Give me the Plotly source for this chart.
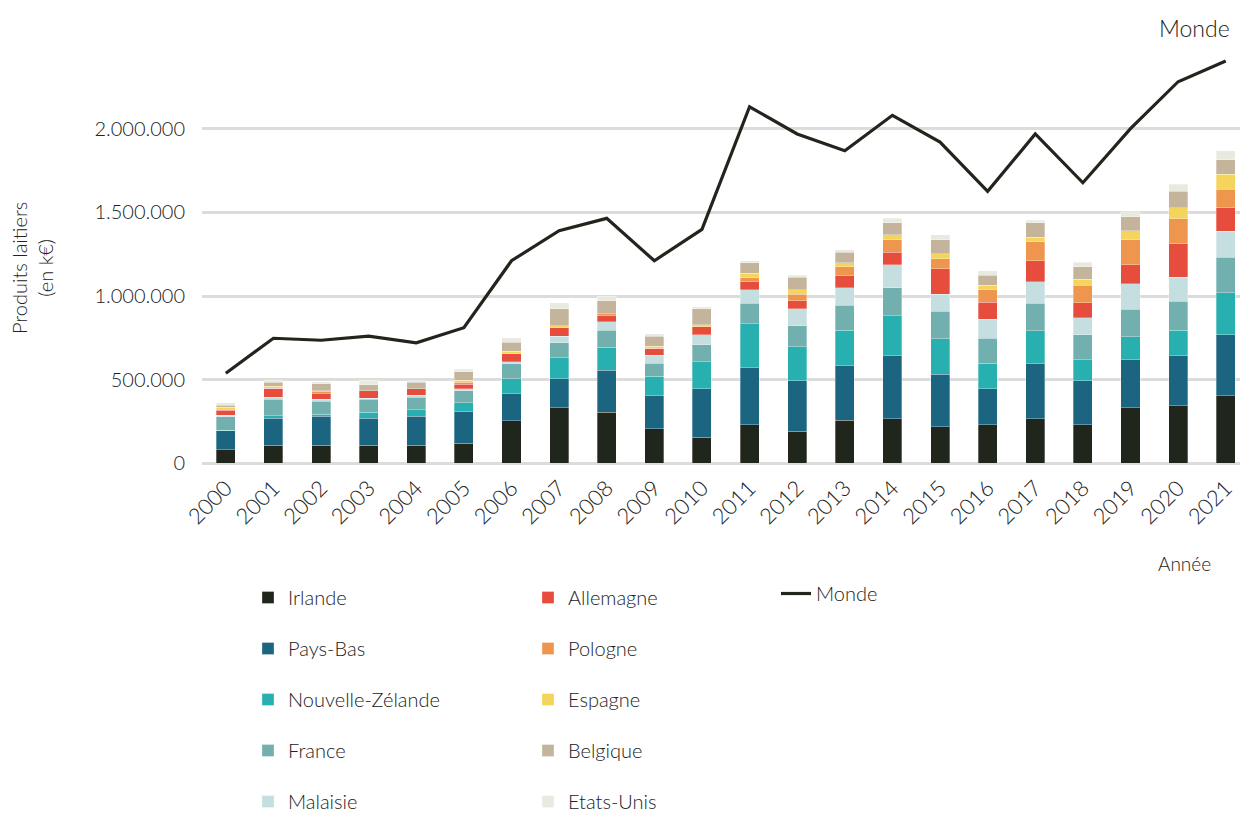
import plotly.graph_objects as go

years = [str(y) for y in range(2000, 2022)]

irlande    = [78, 105, 105, 105, 105, 118, 254, 331, 303, 204, 154, 230, 190, 255, 265, 217, 230, 265, 230, 331, 343, 403]
pays_bas   = [114, 164, 174, 162, 174, 188, 162, 174, 253, 200, 291, 339, 303, 327, 377, 313, 216, 329, 263, 287, 299, 365]
nz         = [5, 14, 12, 36, 40, 54, 90, 126, 138, 114, 162, 265, 204, 212, 240, 214, 150, 198, 126, 138, 152, 251]
france     = [80, 100, 80, 80, 74, 74, 89, 88, 100, 78, 102, 124, 124, 152, 166, 164, 150, 166, 150, 166, 176, 214]
malaisie   = [8, 12, 12, 4, 14, 12, 12, 40, 52, 48, 60, 78, 102, 102, 138, 102, 116, 128, 102, 152, 142, 156]
allemagne  = [32, 52, 36, 46, 38, 26, 51, 52, 36, 42, 46, 50, 50, 74, 76, 152, 100, 126, 90, 114, 202, 138]
pologne    = [4, 0, 12, 0, 0, 12, 0, 0, 12, 0, 0, 22, 36, 52, 76, 62, 76, 114, 102, 150, 150, 112]
espagne    = [12, 12, 3, 0, 0, 12, 12, 12, 0, 12, 14, 28, 28, 26, 28, 28, 26, 26, 38, 52, 64, 90]
belgique   = [12, 24, 40, 36, 38, 50, 52, 100, 78, 60, 94, 64, 74, 62, 74, 86, 60, 86, 74, 86, 100, 88]
etats_unis = [16, 12, 12, 26, 10, 14, 27, 38, 28, 16, 12, 12, 14, 14, 26, 28, 28, 16, 26, 28, 40, 52]
monde      = [537, 747, 735, 760, 720, 810, 1211, 1391, 1465, 1211, 1399, 2133, 1970, 1870, 2082, 1922, 1627, 1970, 1678, 2002, 2283, 2407]

tick_vals = [0, 500000, 1000000, 1500000, 2000000]
tick_text = ["0", "500.000", "1.000.000", "1.500.000", "2.000.000"]

series = [
    ("Irlande", irlande, "#21261c", "legend"),
    ("Pays-Bas", pays_bas, "#1b6581", "legend"),
    ("Nouvelle-Zélande", nz, "#28b0b0", "legend"),
    ("France", france, "#72b0af", "legend"),
    ("Malaisie", malaisie, "#c5dfe0", "legend"),
    ("Allemagne", allemagne, "#e64d3d", "legend2"),
    ("Pologne", pologne, "#ef964e", "legend2"),
    ("Espagne", espagne, "#f5d45c", "legend2"),
    ("Belgique", belgique, "#c4b49c", "legend2"),
    ("Etats-Unis", etats_unis, "#e9eadf", "legend2"),
]

FONT = "Lato, 'Open Sans', sans-serif"
TXT = "#222222"

fig = go.Figure()
for name, vals, color, leg in series:
    fig.add_trace(go.Bar(
        x=years, y=[v * 1000 for v in vals], name=name,
        marker=dict(color=color, line=dict(color="rgba(255,255,255,0.5)", width=0.6)),
        width=0.4, legend=leg, legendgroup=name,
    ))

fig.add_trace(go.Scatter(
    x=years, y=[v * 1000 for v in monde], name="Monde", mode="lines",
    line=dict(color="#21261c", width=3.2), legend="legend3",
))

L, R, T, B = 202, 0, 50, 351
W, H = 1240, 814
pw = W - L - R
ph = H - T - B

def px(xp):
    return (xp - L) / pw

def py(yp):
    return (H - B - yp) / ph

legend_common = dict(
    font=dict(family=FONT, size=20, color=TXT, weight=300),
    bgcolor="rgba(0,0,0,0)", orientation="v",
    tracegroupgap=22, xanchor="left", yanchor="top",
    itemclick=False, itemdoubleclick=False,
)

fig.update_layout(
    width=W, height=H,
    margin=dict(l=L, r=R, t=T, b=B, autoexpand=False),
    paper_bgcolor="white", plot_bgcolor="white",
    barmode="stack",
    font=dict(family=FONT, size=19, color=TXT, weight=300),
    showlegend=True,
    legend=dict(x=px(248), y=py(578), **legend_common),
    legend2=dict(x=px(528), y=py(578), **legend_common),
    legend3=dict(x=px(776), y=py(574), itemwidth=30, **legend_common),
    xaxis=dict(
        type="category", range=[-0.5, 21.3], tickangle=-45, automargin=False,
        tickfont=dict(family=FONT, size=22, color=TXT, weight=300),
        showgrid=False, showline=False, ticks="", zeroline=False,
        ticklabelstandoff=7,
    ),
    yaxis=dict(
        range=[0, 2473000], tickvals=tick_vals, ticktext=tick_text, automargin=False,
        tickfont=dict(family=FONT, size=20, color=TXT, weight=300),
        showgrid=True, gridcolor="#dcdcdc", gridwidth=2.5,
        zeroline=True, zerolinecolor="#dcdcdc", zerolinewidth=2.5,
        showline=False, ticks="", ticklabelstandoff=16,
    ),
    annotations=[
        dict(text="Produits laitiers<br>(en k€)", textangle=-90, xref="paper", yref="paper",
             x=px(32), y=py(268), showarrow=False,
             font=dict(family=FONT, size=20, color=TXT, weight=300),
             xanchor="center", yanchor="middle"),
        dict(text="Année", xref="paper", yref="paper", x=px(1184), y=py(563), showarrow=False,
             font=dict(family=FONT, size=19, color=TXT, weight=300), xanchor="center", yanchor="middle"),
        dict(text="Monde", xref="paper", yref="paper", x=px(1232), y=py(28), showarrow=False,
             font=dict(family=FONT, size=23, color=TXT, weight=300), xanchor="right", yanchor="middle"),
    ],
)

fig.write_html("out.html", config={"displayModeBar": False},
               post_script="document.body.style.margin='0';document.body.style.overflow='hidden';")
